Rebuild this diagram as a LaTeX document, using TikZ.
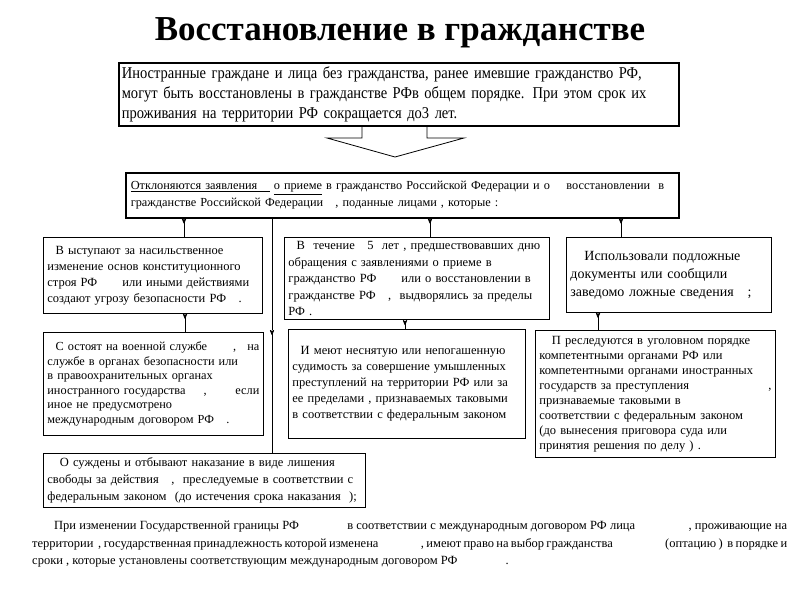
\documentclass[tikz,border=0pt]{standalone}
\usepackage{fontspec}
\setmainfont{Liberation Serif}
\newfontfamily\narrowfont[FakeStretch=0.88]{Liberation Serif}
\usetikzlibrary{arrows,positioning}

\begin{document}
\begin{tikzpicture}[x=1pt,y=-1pt,>=stealth',
    main box/.style={draw,thick,fill=white,anchor=north west,align=left,inner sep=4pt,
      font=\fontsize{12.5}{16}\selectfont},
    big box/.style={main box,line width=1.6pt},
    link/.style={thick,>-}]

    \useasboundingbox (0,0) rectangle (800,600);

    \node (title) at (400,33) {\fontsize{35}{40}\selectfont\bfseries Восстановление в гражданстве};

    \node[big box,minimum width=560pt,minimum height=63pt,text width=554pt,inner sep=3pt,
      font=\narrowfont\fontsize{16.5}{20}\selectfont] (top) at (118,62)
      {Иностранные граждане и лица без гражданства, ранее имевшие гражданство РФ,\\
       могут быть восстановлены в гражданстве РФв общем порядке. При этом срок их\\
       проживания на территории РФ сокращается до3 лет.};

    % wide arrow under the first box
    \draw[line width=0.8pt] (362,125) -- (362,138) -- (327,138) -- (395,157)
      -- (464,138) -- (427,138) -- (427,125);

    \node[big box,minimum width=553pt,minimum height=45pt,text width=543pt,
      font=\fontsize{12.3}{17}\selectfont] (sel) at (125,172)
      {\underline{Отклоняются заявления\quad}\ \underline{о приеме} в гражданство Российской Федерации и о \quad восстановлении\ \ в\\
       гражданстве Российской Федерации\ \ \ , поданные лицами , которые :};

    \node[main box,minimum width=219pt,minimum height=76pt,text width=211pt] (a) at (43,237)
      {\ \ В ыступают за насильственное\\
       изменение основ конституционного\\
       строя РФ\qquad или иными действиями\\
       создают угрозу безопасности РФ\quad .};

    \node[main box,minimum width=265pt,minimum height=77pt,text width=257pt,
      font=\fontsize{12.5}{16.5}\selectfont] (b) at (284,237)
      {\ \ В\ \ течение\quad 5\ \ лет ,\ предшествовавших дню\\
       обращения с заявлениями о приеме в\\
       гражданство РФ\qquad или о восстановлении в\\
       гражданстве РФ\quad ,\ \ выдворялись за пределы\\
       РФ .};

    \node[main box,minimum width=205pt,minimum height=75pt,text width=197pt,
      font=\fontsize{14}{18}\selectfont] (c) at (566,237)
      {\ \ \ Использовали подложные\\
       документы или сообщили\\
       заведомо ложные сведения\quad ;};

    \node[main box,minimum width=220pt,minimum height=103pt,text width=212pt,
      font=\fontsize{12.3}{14.5}\selectfont] (d) at (43,332)
      {\ \ С остоят на военной службе\hspace{26pt},\hfill на\\
       службе в органах безопасности или\\
       в правоохранительных органах\\
       иностранного государства\hspace{18pt},\hfill если\\
       иное не предусмотрено\\
       международным договором РФ\quad .};

    \node[main box,minimum width=237pt,minimum height=109pt,text width=229pt] (e) at (288,329)
      {\ \ И меют неснятую или непогашенную\\
       судимость за совершение умышленных\\
       преступлений на территории РФ или за\\
       ее пределами , признаваемых таковыми\\
       в соответствии с федеральным законом};

    \node[main box,minimum width=240pt,minimum height=127pt,text width=232pt,
      font=\fontsize{12.5}{15}\selectfont] (f) at (535,330)
      {\ \ \ П реследуются в уголовном порядке\\
       компетентными органами РФ или\\
       компетентными органами иностранных\\
       государств за преступления\hfill ,\hspace{10pt}\\
       признаваемые таковыми в\\
       соответствии с федеральным законом\\
       (до вынесения приговора суда или\\
       принятия решения по делу ) .};

    \node[main box,minimum width=322pt,minimum height=50pt,text width=314pt,
      font=\fontsize{12.5}{17}\selectfont] (g) at (43,453)
      {\ \ \ О суждены и отбывают наказание в виде лишения\\
       свободы за действия\quad ,\ \ преследуемые в соответствии с\\
       федеральным законом\ \ (до истечения срока наказания\ \ );};

    \node[anchor=north west,inner sep=0pt,text width=755pt,align=justify,
      font=\fontsize{12.5}{17.5}\selectfont] (note) at (32,521)
      {\hspace*{22pt}При изменении Государственной границы РФ\hspace{45pt} в соответствии с международным договором РФ лица\hspace{50pt} , проживающие на\linebreak
       территории\ \ , государственная принадлежность которой изменена\hspace{40pt} , имеют право на выбор гражданства\hspace{50pt} (оптацию )\ \ в порядке и\linebreak
       сроки , которые установлены соответствующим международным договором РФ\hspace{45pt} .};

    % connectors
    \coordinate (xa) at (184,0);
    \coordinate (xb) at (430,0);
    \coordinate (xc) at (621,0);
    \coordinate (xd) at (185,0);
    \coordinate (xe) at (405,0);
    \coordinate (xf) at (598,0);
    \coordinate (vmid) at (272,330);

    \draw[link] (sel.south -| xa) -- (a.north -| xa);
    \draw[link] (sel.south -| xb) -- (b.north -| xb);
    \draw[link] (sel.south -| xc) -- (c.north -| xc);
    \draw[link] (a.south -| xd) -- (d.north -| xd);
    \draw[link] (b.south -| xe) -- (e.north -| xe);
    \draw[link] (c.south -| xf) -- (f.north -| xf);
    \draw[thick] (sel.south -| vmid) -- (vmid);
    \draw[link] (vmid) -- (g.north -| vmid);
\end{tikzpicture}
\end{document}
